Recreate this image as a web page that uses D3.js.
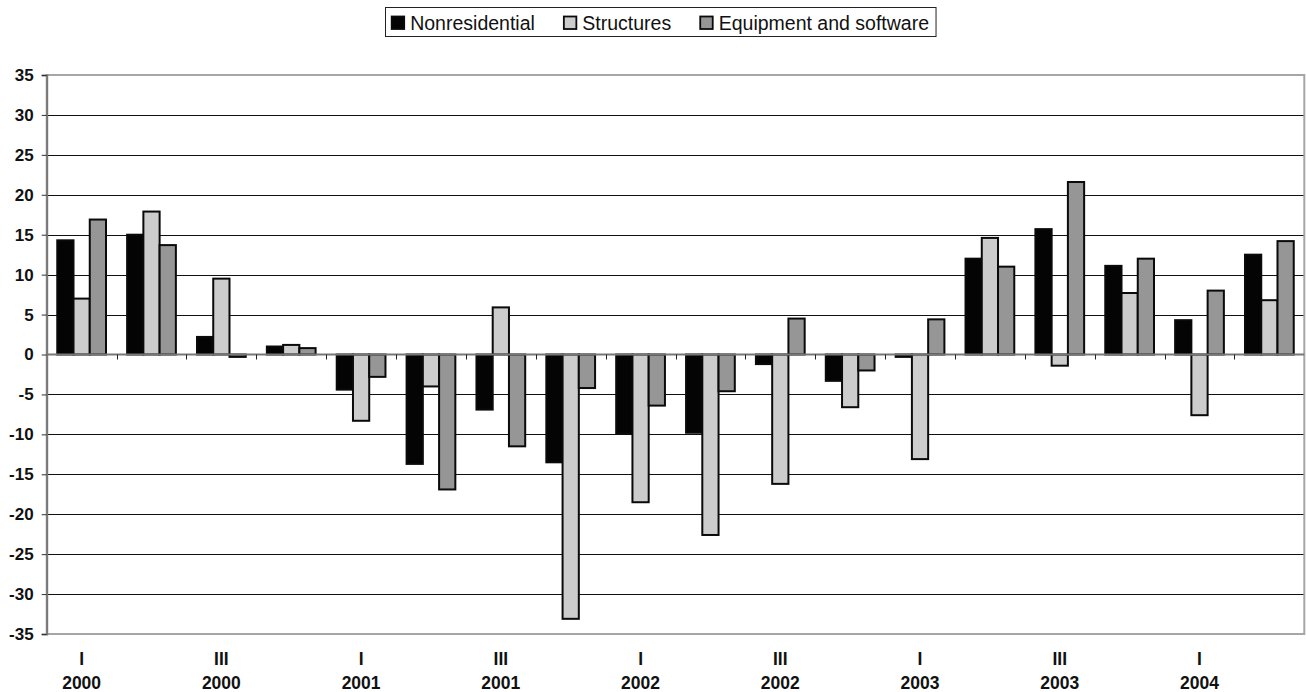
<!DOCTYPE html>
<html>
<head>
<meta charset="utf-8">
<script src="https://cdn.jsdelivr.net/npm/d3@7"></script>
<style>
html,body{margin:0;padding:0;background:#fff;}
svg{display:block;}
text{font-family:"Liberation Sans",Arial,Helvetica,sans-serif;}
</style>
</head>
<body>
<svg id="chart" width="1306" height="692"></svg>
<script>
const quarters = ["2000 I","2000 II","2000 III","2000 IV","2001 I","2001 II","2001 III","2001 IV",
  "2002 I","2002 II","2002 III","2002 IV","2003 I","2003 II","2003 III","2003 IV","2004 I","2004 II"];
const romanLabels = ["I","","III","","I","","III","","I","","III","","I","","III","","I",""];
const yearLabels  = ["2000","","2000","","2001","","2001","","2002","","2002","","2003","","2003","","2004",""];
const seriesNames = ["Nonresidential","Structures","Equipment and software"];
const nonresidential = [14.3,15.0,2.2,1.0,-4.4,-13.7,-6.9,-13.5,-9.9,-9.8,-1.2,-3.3,-0.3,12.0,15.7,11.1,4.3,12.5];
const structures     = [7.0,17.9,9.5,1.2,-8.3,-4.0,5.9,-33.1,-18.5,-22.6,-16.2,-6.6,-13.1,14.6,-1.4,7.7,-7.6,6.8];
const equipment      = [16.9,13.7,-0.3,0.8,-2.8,-16.9,-11.5,-4.2,-6.4,-4.6,4.5,-2.0,4.4,11.0,21.6,12.0,8.0,14.2];
const yTicks = [-35,-30,-25,-20,-15,-10,-5,0,5,10,15,20,25,30,35];
const colors = ["#040404","#cccccc","#969696"];

const seriesValues = [nonresidential, structures, equipment];
const svg = d3.select("#chart");
const L = 46.7, R = 1304.3, T = 75, B = 634;

const x0 = d3.scaleBand().domain(quarters).range([L, R]).padding(0);
const x1 = d3.scaleBand().domain(seriesNames).range([0, x0.bandwidth()]).paddingInner(0).paddingOuter(0.65);
const y = d3.scaleLinear().domain([-35, 35]).range([B, T]);

// gridlines
svg.append("g").selectAll("line")
  .data(yTicks.filter(v => v !== 0 && Math.abs(v) !== 35))
  .join("line")
  .attr("x1", L).attr("x2", R)
  .attr("y1", d => Math.round(y(d)) + 0.5).attr("y2", d => Math.round(y(d)) + 0.5)
  .attr("stroke", "#111").attr("stroke-width", 1);

// plot border
svg.append("rect").attr("x", L).attr("y", T).attr("width", R - L).attr("height", B - T)
  .attr("fill", "none").attr("stroke", "#a6a6a6").attr("stroke-width", 2);

// bars
const groups = svg.append("g").selectAll("g")
  .data(quarters)
  .join("g")
  .attr("transform", d => `translate(${x0(d)},0)`);
groups.selectAll("rect")
  .data((q, i) => seriesNames.map((s, k) => ({s, k, v: seriesValues[k][i]})))
  .join("rect")
  .attr("x", d => x1(d.s))
  .attr("width", x1.bandwidth())
  .attr("y", d => y(Math.max(0, d.v)))
  .attr("height", d => Math.abs(y(d.v) - y(0)))
  .attr("fill", d => colors[d.k])
  .attr("stroke", "#0a0a0a")
  .attr("stroke-width", 2);

// zero axis with ticks at category boundaries
svg.append("line").attr("x1", L).attr("x2", R).attr("y1", y(0)).attr("y2", y(0))
  .attr("stroke", "#777").attr("stroke-width", 2);
svg.append("g").selectAll("line")
  .data(quarters.slice(1))
  .join("line")
  .attr("x1", d => Math.round(x0(d)) + 0.5).attr("x2", d => Math.round(x0(d)) + 0.5)
  .attr("y1", y(0)).attr("y2", y(0) + 5)
  .attr("stroke", "#222").attr("stroke-width", 1);

// y axis
const yAxis = d3.axisLeft(y).tickValues(yTicks).tickSize(5).tickPadding(8).tickFormat(d => String(d));
const yg = svg.append("g").attr("transform", `translate(${L},0)`).call(yAxis);
yg.select(".domain").attr("stroke", "#777").attr("stroke-width", 2);
yg.selectAll(".tick line").attr("stroke", "#333");
yg.selectAll(".tick text").attr("font-size", 17).attr("font-weight", "bold")
  .attr("font-family", "Liberation Sans, Arial, sans-serif").attr("fill", "#111");

// x labels
const xl = svg.append("g").selectAll("g")
  .data(quarters.map((q, i) => ({q, r: romanLabels[i], yr: yearLabels[i]})).filter(d => d.yr !== ""))
  .join("g");
xl.append("text").attr("x", d => x0(d.q) + x0.bandwidth() / 2).attr("y", 665)
  .attr("text-anchor", "middle").attr("font-size", 17.5).attr("font-weight", "bold").attr("fill", "#111")
  .text(d => d.r);
xl.append("text").attr("x", d => x0(d.q) + x0.bandwidth() / 2).attr("y", 689)
  .attr("text-anchor", "middle").attr("font-size", 17.5).attr("font-weight", "bold").attr("fill", "#111")
  .text(d => d.yr);

// legend
const lg = svg.append("g");
const box = lg.append("rect").attr("fill", "#fff").attr("stroke", "#222").attr("stroke-width", 1);
let cx = 391.7;
seriesNames.forEach((s, k) => {
  lg.append("rect").attr("x", cx).attr("y", 16.5).attr("width", 12.5).attr("height", 12.5)
    .attr("fill", colors[k]).attr("stroke", "#0a0a0a").attr("stroke-width", 1.8);
  const t = lg.append("text").attr("x", cx + 18.5).attr("y", 29.5).attr("font-size", 19.5).attr("fill", "#111").text(s);
  const w = t.node().getComputedTextLength();
  cx = cx + 18.5 + w + 29;
});
box.attr("x", 385.5).attr("y", 7.5).attr("width", cx - 29 + 7 - 385.5).attr("height", 29);
</script>
</body>
</html>
